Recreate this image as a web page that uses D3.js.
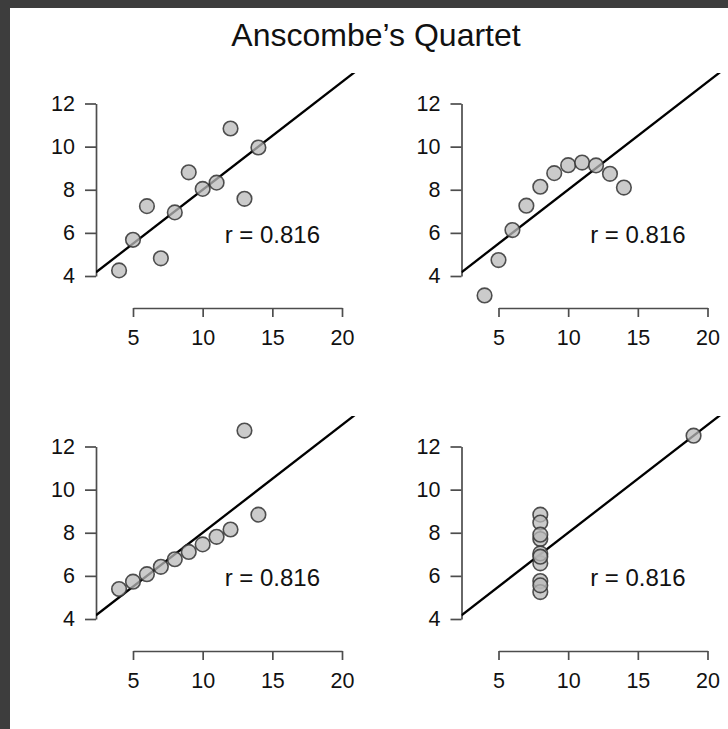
<!DOCTYPE html>
<html><head><meta charset="utf-8">
<script src="https://cdn.jsdelivr.net/npm/d3@7"></script>
<style>
html,body{margin:0;padding:0;background:#3d3d3d;}
svg{display:block;}
</style></head>
<body>
<svg id="c" width="728" height="729"></svg>
<script>
// Anscombe's quartet data
const x123 = [10, 8, 13, 9, 11, 14, 6, 4, 12, 7, 5];
const x4   = [8, 8, 8, 8, 8, 8, 8, 19, 8, 8, 8];
const y1 = [8.04, 6.95, 7.58, 8.81, 8.33, 9.96, 7.24, 4.26, 10.84, 4.82, 5.68];
const y2 = [9.14, 8.14, 8.74, 8.77, 9.26, 8.10, 6.13, 3.10, 9.13, 7.26, 4.74];
const y3 = [7.46, 6.77, 12.74, 7.11, 7.81, 8.84, 6.08, 5.39, 8.15, 6.42, 5.73];
const y4 = [6.58, 5.76, 7.71, 8.84, 8.47, 7.04, 5.25, 12.50, 5.56, 7.91, 6.89];
const intercept = 3.00;
const slope = 0.500;
const rLabel = "r = 0.816";
const xTicks = [5, 10, 15, 20];
const yTicks = [4, 6, 8, 10, 12];
const title = "Anscombe\u2019s Quartet";

const panels = [
  {xs: x123, ys: y1, col: 0, row: 0},
  {xs: x123, ys: y2, col: 1, row: 0},
  {xs: x123, ys: y3, col: 0, row: 1},
  {xs: x4,   ys: y4, col: 1, row: 1}
];

const svg = d3.select("#c");
const font = "'Liberation Sans', Arial, Helvetica, sans-serif";

svg.append("rect").attr("x", 10).attr("y", 8).attr("width", 718).attr("height", 721).attr("fill", "#ffffff");

svg.append("text")
  .attr("x", 376).attr("y", 46)
  .attr("text-anchor", "middle")
  .attr("font-family", font).attr("font-size", 32)
  .attr("fill", "#111")
  .text(title);

const colStep = 365.5, rowStep = 343;

panels.forEach((p, i) => {
  const ox = p.col * colStep, oy = p.row * rowStep;
  const x = d3.scaleLinear().domain([5, 20]).range([133 + ox, 342 + ox]);
  const y = d3.scaleLinear().domain([4, 12]).range([276 + oy, 103.5 + oy]);
  const left = 96 + ox, bottom = 308 + oy, top = 73 + oy, right = 370 + ox;

  const g = svg.append("g");

  const clipId = "clip" + i;
  svg.append("clipPath").attr("id", clipId)
    .append("rect").attr("x", left).attr("y", top)
    .attr("width", right - left).attr("height", bottom - top);

  // y axis
  const ya = g.append("g").attr("transform", `translate(${left},0)`)
    .call(d3.axisLeft(y).tickValues(yTicks).tickSize(11).tickSizeOuter(0).tickPadding(10));
  // x axis
  const xa = g.append("g").attr("transform", `translate(0,${bottom})`)
    .call(d3.axisBottom(x).tickValues(xTicks).tickSize(9).tickSizeOuter(0).tickPadding(12.5));
  [ya, xa].forEach(a => {
    a.selectAll("path.domain").attr("stroke", "#4d4d4d").attr("stroke-width", 1.7);
    a.selectAll(".tick line").attr("stroke", "#4d4d4d").attr("stroke-width", 1.7);
    a.selectAll(".tick text").attr("font-family", font).attr("font-size", 21.5).attr("fill", "#111");
  });

  // regression line
  const x0 = x.invert(left), x1 = x.invert(right + 20);
  g.append("line")
    .attr("clip-path", `url(#${clipId})`)
    .attr("x1", x(x0)).attr("y1", y(intercept + slope * x0))
    .attr("x2", x(x1)).attr("y2", y(intercept + slope * x1))
    .attr("stroke", "#000").attr("stroke-width", 2.3);

  // points
  g.selectAll("circle").data(p.xs.map((d, k) => [d, p.ys[k]])).enter()
    .append("circle")
    .attr("cx", d => x(d[0])).attr("cy", d => y(d[1]))
    .attr("r", 7.3)
    .attr("fill", "#b9b9b9").attr("fill-opacity", 0.75)
    .attr("stroke", "#333").attr("stroke-opacity", 0.85).attr("stroke-width", 1.6);

  // r label
  g.append("text")
    .attr("x", x(15)).attr("y", y(6) + 10.5)
    .attr("text-anchor", "middle")
    .attr("font-family", font).attr("font-size", 24)
    .attr("fill", "#111")
    .text(rLabel);
});
</script>
</body></html>
